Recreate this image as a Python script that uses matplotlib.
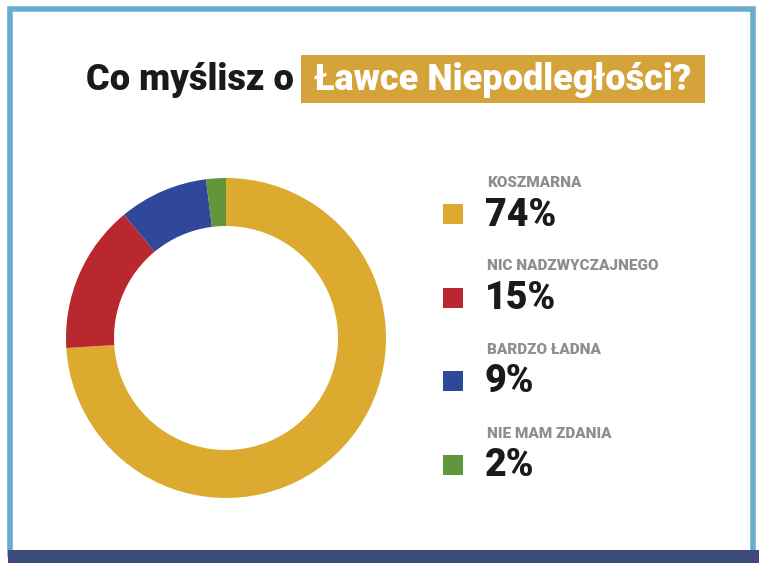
import matplotlib.pyplot as plt
from matplotlib.patches import Rectangle

# data
categories = ['KOSZMARNA', 'NIC NADZWYCZAJNEGO', 'BARDZO ŁADNA', 'NIE MAM ZDANIA']
values = [74, 15, 9, 2]
pct_labels = ['74%', '15%', '9%', '2%']
colors = ['#dcaa2e', '#b8282e', '#30489a', '#62963a']

title_left = 'Co myślisz o'
title_right = 'Ławce Niepodległości?'

W, H = 759, 563
fig = plt.figure(figsize=(W / 100, H / 100), dpi=100)
fig.patch.set_facecolor('white')

# background axes in pixel coordinates
bg = fig.add_axes([0, 0, 1, 1])
bg.set_xlim(0, W)
bg.set_ylim(H, 0)
bg.axis('off')

# frame: light blue border + navy band at the bottom
bg.add_patch(Rectangle((10, 9), 743, 545, facecolor='none', edgecolor='#6aaccc', linewidth=4))
bg.add_patch(Rectangle((8, 550), 751, 13, facecolor='#3c4a7c', edgecolor='none'))

# title
fam = ['Roboto', 'DejaVu Sans']
bg.text(86, 80, title_left, fontsize=26, fontweight='black', color='#1a1a1a',
        ha='left', va='center', family=fam)
bg.add_patch(Rectangle((301, 55), 404, 48, facecolor='#d4a43a', edgecolor='none'))
bg.text(503, 80, title_right, fontsize=26, fontweight='black', color='white',
        ha='center', va='center', family=fam)

# donut
ax = fig.add_axes([66 / W, (H - 498) / H, 320 / W, 320 / H])
ax.pie(values, colors=colors, startangle=90, counterclock=False,
       wedgeprops=dict(width=0.30, edgecolor='none'))
ax.set_xlim(-1, 1)
ax.set_ylim(-1, 1)
ax.set_aspect('equal')

# legend
for i, (cat, pct, c) in enumerate(zip(categories, pct_labels, colors)):
    y = 214 + i * 83.5
    bg.add_patch(Rectangle((443, y - 10), 20, 20, facecolor=c, edgecolor='none'))
    bg.text(487, y - 31, cat, fontsize=11, fontweight='black', color='#8e8e8e',
            ha='left', va='center', family=fam)
    bg.text(485, y + 1, pct, fontsize=27, fontweight='black', color='#1a1a1a',
            ha='left', va='center', family=fam)

fig.savefig('out.png', dpi=100)
